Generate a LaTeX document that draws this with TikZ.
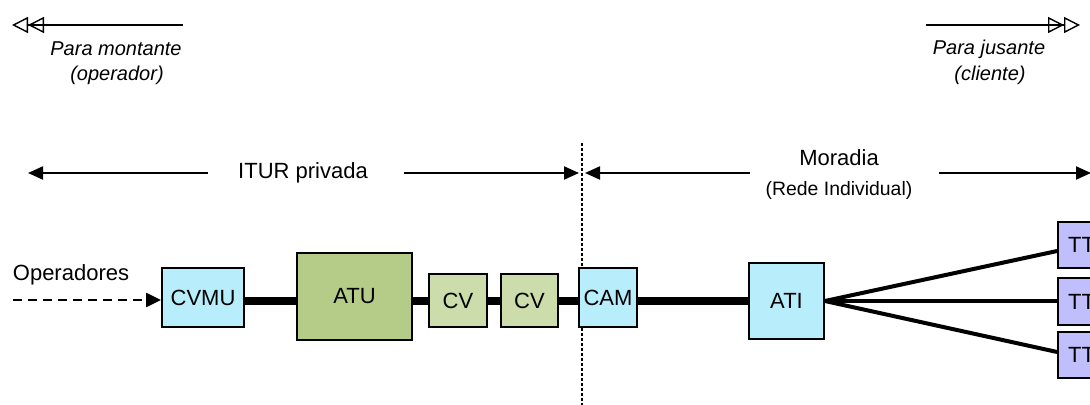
\documentclass[tikz,border=0pt]{standalone}
\usepackage{fontspec}
\setmainfont{Liberation Sans}
\usetikzlibrary{arrows.meta}
\definecolor{azul}{HTML}{B8EEFC}
\definecolor{verde}{HTML}{B5CB88}
\definecolor{verdeclaro}{HTML}{CCDCAA}
\definecolor{lilas}{HTML}{C0BEFC}
\tikzset{
    box/.style = {draw, line width=0.9pt, inner sep=0pt, font=\fontsize{11}{13}\selectfont},
    label/.style = {inner sep=0pt, font=\fontsize{11}{13}\selectfont},
    sentido/.style = {inner sep=0pt, font=\fontsize{10}{12}\selectfont\itshape},
    cota/.style = {draw, line width=1pt, -{Triangle[length=7.5pt,width=6.5pt]}},
    fluxo/.style = {draw, line width=0.7pt, -{Triangle[open,length=8pt,width=8pt]Triangle[open,length=8pt,width=8pt]}},
    cabo/.style = {draw, line width=3.8pt},
    ramo/.style = {draw, line width=2pt},
}

\begin{document}
\begin{tikzpicture}[x=0.5pt, y=-0.5pt]
    \useasboundingbox (0, 0) rectangle (1090, 405);

    \coordinate (montante) at (12, 25);
    \coordinate (montante0) at (183, 25);
    \coordinate (jusante) at (1080, 25);
    \coordinate (jusante0) at (926, 25);
    \node[sentido] (pm) at (116, 49) {Para montante};
    \node[sentido] (op) at (117, 75) {(operador)};
    \node[sentido] (pj) at (989, 49) {Para jusante};
    \node[sentido] (cl) at (990, 75) {(cliente)};
    \draw[fluxo] (montante0) -- (montante);
    \draw[fluxo] (jusante0) -- (jusante);

    \node[label] (itur) at (303, 173) {ITUR privada};
    \node[label] (moradia) at (839, 158) {Moradia};
    \node[inner sep=0pt, font=\fontsize{9.7}{12}\selectfont] (rede) at (839, 190) {(Rede Individual)};
    \coordinate (iturl) at (28, 173);
    \coordinate (iturr) at (579, 173);
    \coordinate (moradial) at (585, 173);
    \coordinate (moradiar) at (1091, 173);
    \draw[cota] ([xshift=-15pt]itur.west) -- (iturl);
    \draw[cota] ([xshift=18pt]itur.east) -- (iturr);
    \draw[cota] (moradial -| 750, 0) -- (moradial);
    \draw[cota] (moradiar -| 939, 0) -- (moradiar);

    \coordinate (div0) at (582, 143);
    \coordinate (div1) at (582, 405);
    \draw[line width=0.7pt, dash pattern=on 1.5pt off 1pt] (div0) -- (div1);

    \node[box, fill=azul, minimum width=41pt, minimum height=29.5pt] (cvmu) at (203, 297.5) {CVMU};
    \node[box, fill=verde, minimum width=57.5pt, minimum height=43.5pt] (atu) at (354.5, 296.5) {ATU};
    \node[box, fill=verdeclaro, minimum width=29pt, minimum height=26.5pt] (cv1) at (458, 300.5) {CV};
    \node[box, fill=verdeclaro, minimum width=28.5pt, minimum height=26.5pt] (cv2) at (529.5, 300.5) {CV};
    \node[box, fill=azul, minimum width=29pt, minimum height=29.5pt] (cam) at (608, 297.5) {CAM};
    \node[box, fill=azul, minimum width=37.5pt, minimum height=38pt] (ati) at (786.5, 301) {ATI};
    \node[box, fill=lilas, minimum width=23.5pt, minimum height=23pt] (tt1) at (1081.5, 245) {TT};
    \node[box, fill=lilas, minimum width=23.5pt, minimum height=23.5pt] (tt2) at (1081.5, 301.5) {TT};
    \node[box, fill=lilas, minimum width=23.5pt, minimum height=23pt] (tt3) at (1081.5, 355) {TT};

    \node[label] (operadores) at (71, 275) {Operadores};
    \coordinate (entrada) at (13, 300);
    \draw[line width=1.1pt, dash pattern=on 4.5pt off 3pt, -{Triangle[length=7.5pt,width=7pt]}] (entrada) -- (cvmu.west |- entrada);

    \draw[cabo] (cvmu.east |- ati) -- (atu.west |- ati);
    \draw[cabo] (atu.east |- ati) -- (cv1.west |- ati);
    \draw[cabo] (cv1.east |- ati) -- (cv2.west |- ati);
    \draw[cabo] (cv2.east |- ati) -- (cam.west |- ati);
    \draw[cabo] (cam.east |- ati) -- (ati.west);

    \draw[ramo] (ati.east) -- ([yshift=-3pt]tt1.west);
    \draw[ramo] (ati.east) -- (tt2.west |- ati);
    \draw[ramo] (ati.east) -- ([yshift=1.5pt]tt3.west);
\end{tikzpicture}
\end{document}
